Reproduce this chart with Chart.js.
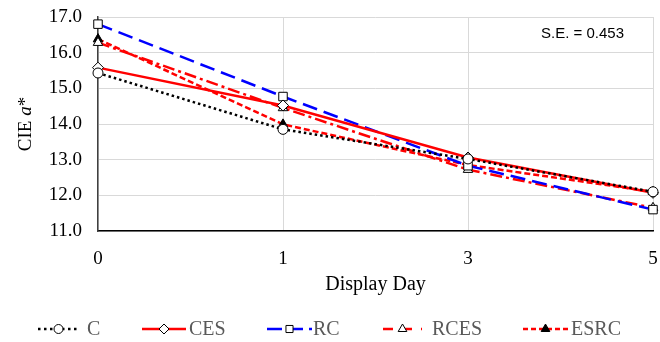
<!DOCTYPE html>
<html>
<head>
<meta charset="utf-8">
<script src="https://cdn.jsdelivr.net/npm/chart.js@4/dist/chart.umd.min.js"></script>
<style>
  html, body { margin: 0; padding: 0; background: #fff; }
  #wrap { width: 660px; height: 342px; }
</style>
</head>
<body>
<div id="wrap"><canvas id="cieChart" width="660" height="342"></canvas></div>
<script>
// Data
const displayDays = ['0', '1', '3', '5'];
const cValues = [15.43, 13.85, 13.02, 12.10];
const cesValues = [15.58, 14.52, 13.06, 12.07];
const rcValues = [16.80, 14.77, 12.83, 11.60];
const rcesValues = [16.28, 14.45, 12.72, 11.65];
const esrcValues = [16.38, 13.99, 12.85, 12.10];
const yTicks = [11, 12, 13, 14, 15, 16, 17];
const seText = 'S.E. = 0.453';

const serif = "'Liberation Serif', 'DejaVu Serif', serif";

// Series styles
const seriesList = [
    { label: 'C', data: cValues, color: '#000000', dash: [2.5, 3], style: 'circle', fill: '#ffffff' },
    { label: 'CES', data: cesValues, color: '#ff0000', dash: [], style: 'rectRot', fill: '#ffffff' },
    { label: 'RC', data: rcValues, color: '#0000ff', dash: [15, 7], style: 'rect', fill: '#ffffff' },
    { label: 'RCES', data: rcesValues, color: '#ff0000', dash: [12, 4, 3, 4], style: 'triangle', fill: '#ffffff' },
    { label: 'ESRC', data: esrcValues, color: '#ff0000', dash: [6, 3], style: 'triangle', fill: '#000000' },
];

const markerRadius = { circle: 5, rectRot: 5.5, rect: 6, triangle: 5.5 };
const legendRadius = { circle: 4.5, rectRot: 5, rect: 5, triangle: 5 };
const legendDash = [[2.5, 3.5], [], [15, 6], [10, 9], [5, 3]];

// Legend positions (line start, line end, text x)
const legendSlots = [
    { x0: 38, x1: 79, tx: 87 },
    { x0: 142, x1: 186, tx: 189 },
    { x0: 267, x1: 312, tx: 313 },
    { x0: 383, x1: 422, tx: 432 },
    { x0: 523, x1: 568, tx: 571 },
];

// Plugin: custom legend, y title with italic a, S.E. note
const extrasPlugin = {
    id: 'extras',
    afterDraw(chart) {
        const ctx = chart.ctx;
        const area = chart.chartArea;

        // S.E. annotation
        ctx.save();
        ctx.font = "15px 'Liberation Sans', Arial, sans-serif";
        ctx.fillStyle = '#000';
        ctx.textAlign = 'left';
        ctx.textBaseline = 'middle';
        ctx.fillText(seText, 541, 34);
        ctx.restore();

        // Y axis title
        ctx.save();
        ctx.translate(26, (area.top + area.bottom) / 2);
        ctx.rotate(-Math.PI / 2);
        ctx.fillStyle = '#000';
        ctx.textBaseline = 'middle';
        const parts = [
            { t: 'CIE ', f: '19px ' + serif },
            { t: 'a', f: 'italic 19px ' + serif },
            { t: '*', f: '19px ' + serif },
        ];
        let total = 0;
        parts.forEach(p => { ctx.font = p.f; total += ctx.measureText(p.t).width; });
        let x = -total / 2;
        parts.forEach(p => {
            ctx.font = p.f;
            ctx.fillText(p.t, x, 0);
            x += ctx.measureText(p.t).width;
        });
        ctx.restore();

        // Legend
        const ly = 329;
        seriesList.forEach((s, i) => {
            const slot = legendSlots[i];
            ctx.save();
            ctx.strokeStyle = s.color;
            ctx.lineWidth = 2.5;
            ctx.setLineDash(legendDash[i]);
            ctx.beginPath();
            ctx.moveTo(slot.x0, ly);
            ctx.lineTo(slot.x1, ly);
            ctx.stroke();
            ctx.setLineDash([]);
            ctx.lineWidth = 1;
            ctx.fillStyle = s.fill;
            ctx.strokeStyle = '#000';
            Chart.helpers.drawPoint(ctx, {
                pointStyle: s.style,
                radius: legendRadius[s.style],
                rotation: 0,
                borderWidth: 1,
            }, (slot.x0 + slot.x1) / 2, ly);
            ctx.fillStyle = '#595959';
            ctx.font = '20px ' + serif;
            ctx.textBaseline = 'middle';
            ctx.fillText(s.label, slot.tx, ly + 1);
            ctx.restore();
        });
    }
};

function fixPadding(scale) {
    scale.paddingTop = 0;
    scale.paddingBottom = 0;
    scale.paddingLeft = 0;
    scale.paddingRight = 0;
}

const ctxCie = document.getElementById('cieChart').getContext('2d');
const cieChart = new Chart(ctxCie, {
    type: 'line',
    data: {
        labels: displayDays,
        datasets: seriesList.map(s => ({
            label: s.label,
            data: s.data,
            borderColor: s.color,
            borderWidth: 2.5,
            borderDash: s.dash,
            tension: 0,
            fill: false,
            clip: false,
            pointStyle: s.style,
            pointRadius: markerRadius[s.style],
            pointBackgroundColor: s.fill,
            pointBorderColor: '#000000',
            pointBorderWidth: 1,
        })),
    },
    options: {
        responsive: false,
        animation: false,
        events: [],
        layout: { padding: { top: 17, right: 5, left: 0, bottom: 0 } },
        plugins: {
            legend: { display: false },
            tooltip: { enabled: false },
        },
        scales: {
            x: {
                offset: false,
                grid: { color: '#d9d9d9', lineWidth: 1, drawTicks: false },
                border: { color: '#000000', width: 1.5 },
                ticks: { color: '#000', padding: 17, font: { family: serif, size: 19 } },
                title: {
                    display: true,
                    text: 'Display Day',
                    color: '#000',
                    font: { family: serif, size: 20 },
                    padding: { top: 0, bottom: 45 },
                },
                afterFit(scale) { scale.height = 111; fixPadding(scale); },
            },
            y: {
                min: yTicks[0],
                max: yTicks[yTicks.length - 1],
                grid: { color: '#d9d9d9', lineWidth: 1, drawTicks: false },
                border: { color: '#404040', width: 1.5 },
                afterBuildTicks(scale) { scale.ticks = yTicks.map(v => ({ value: v })); },
                ticks: {
                    color: '#000',
                    padding: 16,
                    font: { family: serif, size: 19 },
                    callback: v => Number(v).toFixed(1),
                },
                afterFit(scale) { scale.width = 98; fixPadding(scale); },
            },
        },
    },
    plugins: [extrasPlugin],
});
</script>
</body>
</html>
